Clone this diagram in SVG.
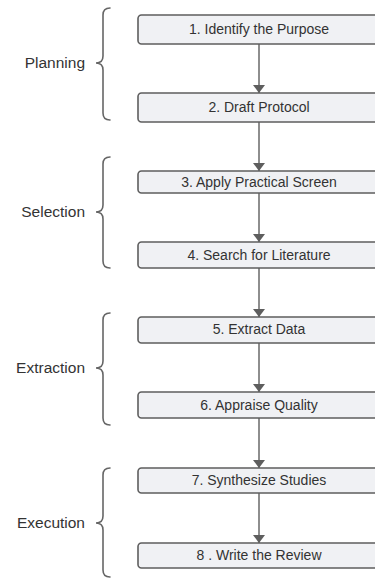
<svg xmlns="http://www.w3.org/2000/svg" width="375" height="579" viewBox="0 0 375 579">
  <defs>
    <marker id="arrow" viewBox="0 0 8 12" refX="8" refY="6" markerWidth="8" markerHeight="12" markerUnits="userSpaceOnUse" orient="auto">
      <path d="M0,0 L8,6 L0,12 Z" fill="#5e5e5e"/>
    </marker>
    <style>
      .box { fill: #f0f1f4; stroke: #5e5e5e; stroke-width: 1.6; }
      .box-text { font-family: "Liberation Sans", Arial, sans-serif; font-size: 14px; fill: #333333; text-anchor: middle; }
      .brace { fill: none; stroke: #666666; stroke-width: 1.6; stroke-linecap: round; }
      .phase { font-family: "Liberation Sans", Arial, sans-serif; font-size: 15.5px; fill: #333333; text-anchor: end; }
      .conn { stroke: #5e5e5e; stroke-width: 1.4; fill: none; marker-end: url(#arrow); }
    </style>
  </defs>
  <rect width="375" height="579" fill="#ffffff"/>

  <!-- phase braces and labels -->
  <g id="phase-planning">
    <path class="brace" d="M110,8 Q103,8 103,15 L103,56 Q103,63 96,63 Q103,63 103,70 L103,113 Q103,120 110,120"/>
    <text class="phase" x="85" y="68">Planning</text>
  </g>
  <g id="phase-selection">
    <path class="brace" d="M110,157 Q103,157 103,164 L103,205 Q103,212 96,212 Q103,212 103,219 L103,261 Q103,268 110,268"/>
    <text class="phase" x="85" y="217">Selection</text>
  </g>
  <g id="phase-extraction">
    <path class="brace" d="M110,313 Q103,313 103,320 L103,361 Q103,368 96,368 Q103,368 103,375 L103,418 Q103,425 110,425"/>
    <text class="phase" x="85" y="373">Extraction</text>
  </g>
  <g id="phase-execution">
    <path class="brace" d="M110,468 Q103,468 103,475 L103,516 Q103,523 96,523 Q103,523 103,530 L103,570 Q103,577 110,577"/>
    <text class="phase" x="85" y="528">Execution</text>
  </g>

  <!-- connectors -->
  <g id="connectors">
    <line class="conn" x1="259" y1="44" x2="259" y2="93"/>
    <line class="conn" x1="259" y1="122" x2="259" y2="171"/>
    <line class="conn" x1="259" y1="193" x2="259" y2="242"/>
    <line class="conn" x1="259" y1="268" x2="259" y2="317"/>
    <line class="conn" x1="259" y1="343" x2="259" y2="392"/>
    <line class="conn" x1="259" y1="418" x2="259" y2="468"/>
    <line class="conn" x1="259" y1="493" x2="259" y2="543"/>
  </g>

  <!-- step nodes -->
  <g id="step-1">
    <rect class="box" x="138" y="15" width="242" height="29" rx="3.5"/>
    <text class="box-text" x="259" y="34">1. Identify the Purpose</text>
  </g>
  <g id="step-2">
    <rect class="box" x="138" y="93" width="242" height="29" rx="3.5"/>
    <text class="box-text" x="259" y="112">2. Draft Protocol</text>
  </g>
  <g id="step-3">
    <rect class="box" x="138" y="171" width="242" height="22" rx="3.5"/>
    <text class="box-text" x="259" y="187">3. Apply Practical Screen</text>
  </g>
  <g id="step-4">
    <rect class="box" x="138" y="242" width="242" height="26" rx="3.5"/>
    <text class="box-text" x="259" y="260">4. Search for Literature</text>
  </g>
  <g id="step-5">
    <rect class="box" x="138" y="317" width="242" height="26" rx="3.5"/>
    <text class="box-text" x="259" y="334">5. Extract Data</text>
  </g>
  <g id="step-6">
    <rect class="box" x="138" y="392" width="242" height="26" rx="3.5"/>
    <text class="box-text" x="259" y="410">6. Appraise Quality</text>
  </g>
  <g id="step-7">
    <rect class="box" x="138" y="468" width="242" height="25" rx="3.5"/>
    <text class="box-text" x="259" y="485">7. Synthesize Studies</text>
  </g>
  <g id="step-8">
    <rect class="box" x="138" y="543" width="242" height="25" rx="3.5"/>
    <text class="box-text" x="259" y="560">8 . Write the Review</text>
  </g>
</svg>
